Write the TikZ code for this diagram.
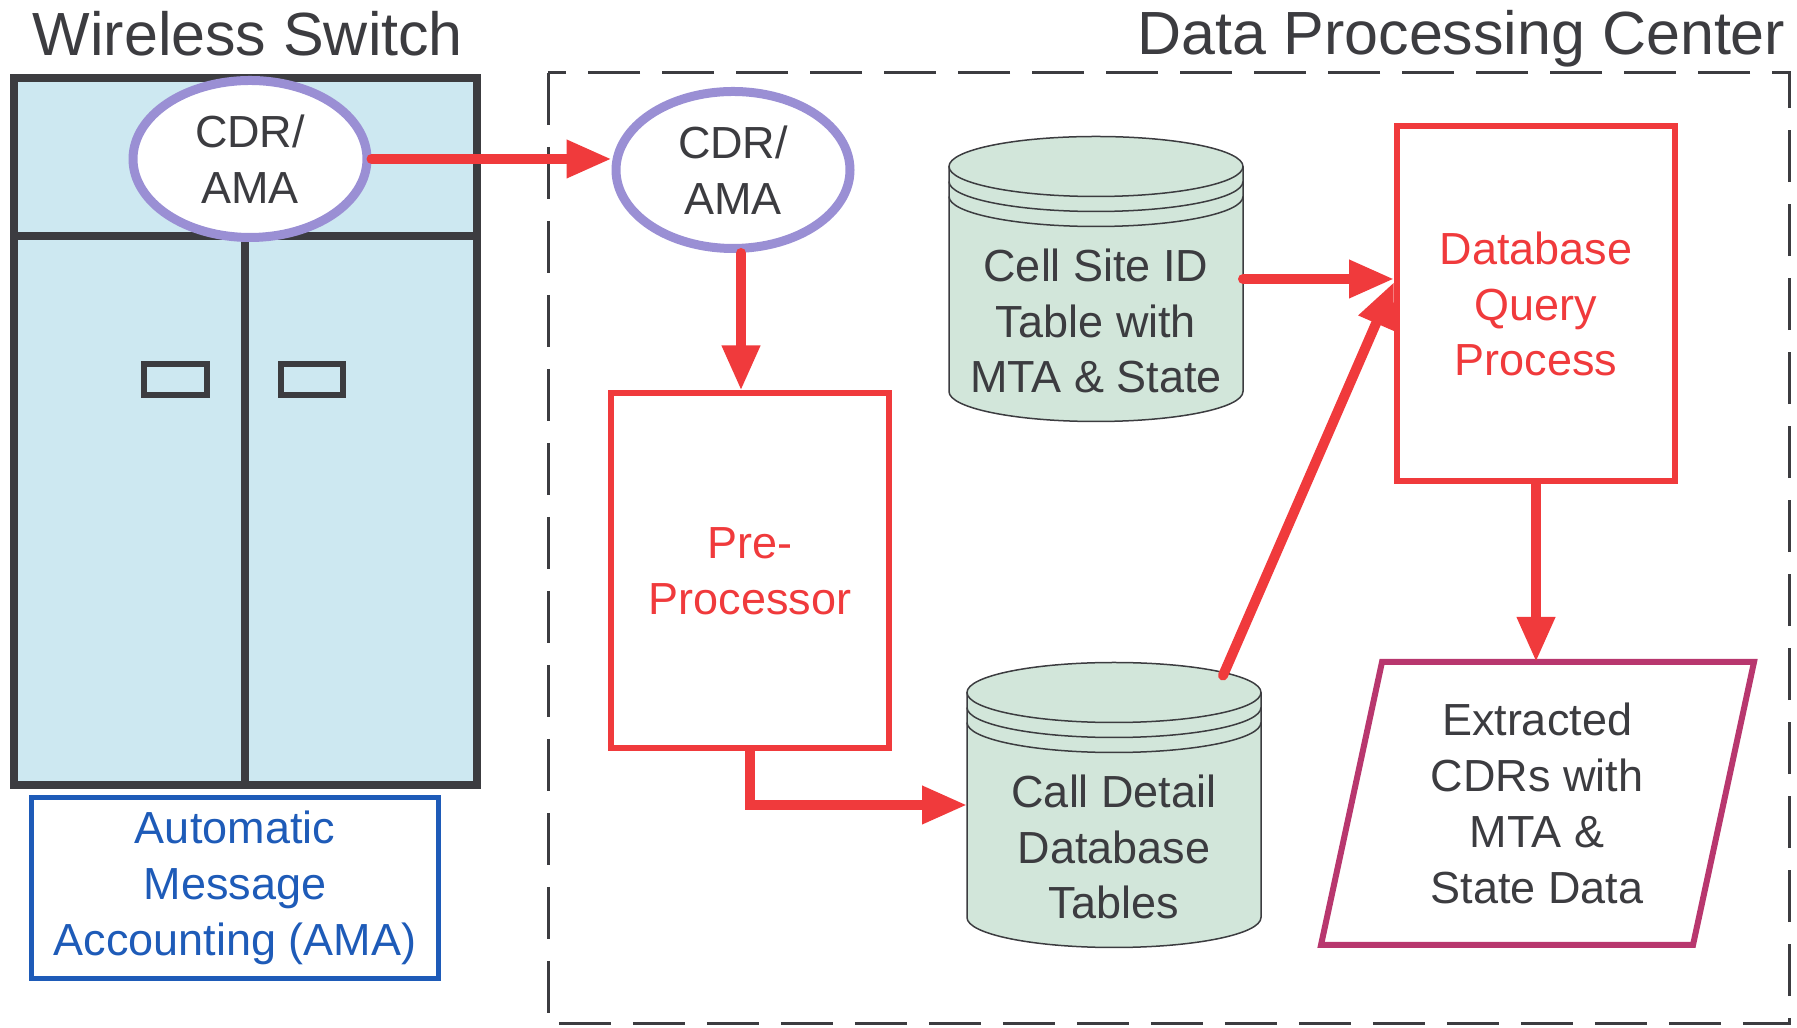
\documentclass[tikz,border=0pt]{standalone}
\usepackage{fontspec}
\setmainfont{Liberation Sans}
\usetikzlibrary{arrows.meta,shapes.geometric,positioning}

\definecolor{inkgray}{HTML}{3C3C40}
\definecolor{arrowred}{HTML}{F03A3C}
\definecolor{lavender}{HTML}{9A8FD4}
\definecolor{amablue}{HTML}{1E5BB8}
\definecolor{extrrose}{HTML}{B8376E}
\definecolor{cabblue}{HTML}{CDE8F1}
\definecolor{drumgreen}{HTML}{D2E6DA}

\newcommand{\diagfont}{\fontsize{12.8}{15.9}\selectfont}
\newcommand{\headfont}{\fontsize{17.35}{20}\selectfont}

% database drum drawn round a named node
\newcommand{\dbdrum}[1]{%
  \fill[drumgreen] ([yshift=-3mm]#1.north west) -- ([yshift=3mm]#1.south west)
    arc[start angle=180,end angle=360,x radius=14.7mm,y radius=3mm]
    -- ([yshift=-3mm]#1.north east)
    arc[start angle=0,end angle=180,x radius=14.7mm,y radius=3mm] -- cycle;
  \draw[drumline] ([yshift=-3mm]#1.north west) -- ([yshift=3mm]#1.south west)
    arc[start angle=180,end angle=360,x radius=14.7mm,y radius=3mm]
    -- ([yshift=-3mm]#1.north east);
  \draw[drumline] ([yshift=-3mm]#1.north) ellipse[x radius=14.7mm,y radius=3mm];
  \draw[drumline] ([yshift=-4.5mm]#1.north west)
    arc[start angle=180,end angle=360,x radius=14.7mm,y radius=3mm];
  \draw[drumline] ([yshift=-6mm]#1.north west)
    arc[start angle=180,end angle=360,x radius=14.7mm,y radius=3mm];
}

\begin{document}
\begin{tikzpicture}[%
    x=0.1mm, y=-0.1mm,
    >={Triangle[length=4.5mm,width=3.6mm]},
    every node/.style={text=inkgray, font=\diagfont},
    title/.style={font=\headfont, inner sep=0pt},
    cabinet/.style={draw=inkgray, line width=0.8mm},
    cdr/.style={ellipse, draw=lavender, line width=0.9mm, fill=white,
      inner sep=0pt, align=center, minimum width=23.4mm, minimum height=15.7mm},
    proc/.style={rectangle, draw=arrowred, line width=0.6mm, text=arrowred,
      align=center, minimum width=27.8mm, minimum height=35.5mm},
    drum/.style={rectangle, inner sep=0pt, outer sep=0pt,
      minimum width=29.4mm, minimum height=28.5mm},
    drumline/.style={draw=inkgray, line width=0.15mm},
    drumtext/.style={align=center, inner sep=0pt},
    amabox/.style={rectangle, draw=amablue, line width=0.5mm, text=amablue,
      align=center, minimum width=40.7mm, minimum height=18.1mm},
    outdata/.style={align=center, inner sep=0pt, outer sep=0pt,
      minimum width=30mm, minimum height=28.3mm},
    frame/.style={draw=inkgray, line width=0.3mm, dash pattern=on 5.2mm off 2.2mm},
    flow/.style={->, color=arrowred, line width=1mm, line cap=round},
  ]
    \useasboundingbox (0,0) rectangle (1797,1028);

    % titles
    \node[title, anchor=base west] (wstitle) at (32,56) {Wireless Switch};
    \node[title, anchor=base east] (dpctitle) at (1786,55) {Data Processing Center};

    % switch cabinet
    \draw[cabinet, fill=cabblue] (14,78) rectangle (477,785);
    \draw[cabinet] (14,236) -- (477,236) (245,236) -- (245,785);
    \draw[cabinet, line width=0.6mm] (144,364) rectangle (207,395);
    \draw[cabinet, line width=0.6mm] (281,364) rectangle (343,395);

    % data processing center
    \draw[frame] (548,73) rectangle (1789,1024);

    \node[cdr] (cdra) at (250,159) {CDR/\\AMA};
    \node[cdr] (cdrb) at (733,170) {CDR/\\AMA};
    \node[amabox] (ama) at (235,888) {Automatic\\Message\\Accounting (AMA)};
    \node[proc] (pre) at (750,571) {Pre-\\Processor};
    \node[proc] (dbq) at (1536,304) {Database\\Query\\Process};

    \node[drum] (cell) at (1096,279) {};
    \dbdrum{cell}
    \node[drumtext] (celltxt) at ([yshift=-4.2mm]cell.center) {Cell Site ID\\Table with\\MTA \& State};
    \node[drum] (call) at (1114,805) {};
    \dbdrum{call}
    \node[drumtext] (calltxt) at ([yshift=-4.2mm]call.center) {Call Detail\\Database\\Tables};

    \node[outdata] (extr) at (1537,803.5) {Extracted\\CDRs with\\MTA \&\\State Data};
    \draw[extrrose, line width=0.6mm, line join=miter]
      (1382,662) -- (1754,662) -- (1693,945) -- (1321,945) -- cycle;

    \path[flow]
    (cdra.east) edge (cdra.east -| cdrb.west)
    ([xshift=-0.9mm]pre.north |- cdrb.south) edge ([xshift=-0.9mm]pre.north)
    (pre.south) edge[to path={|- (\tikztotarget)}] (call.west)
    (cell.east) edge (cell.east -| dbq.west)
    ([xshift=10.9mm,yshift=-1.3mm]call.north) edge ([yshift=2.2mm]dbq.west)
    (dbq.south) edge (dbq.south |- extr.north)
    ;
  \end{tikzpicture}
\end{document}
